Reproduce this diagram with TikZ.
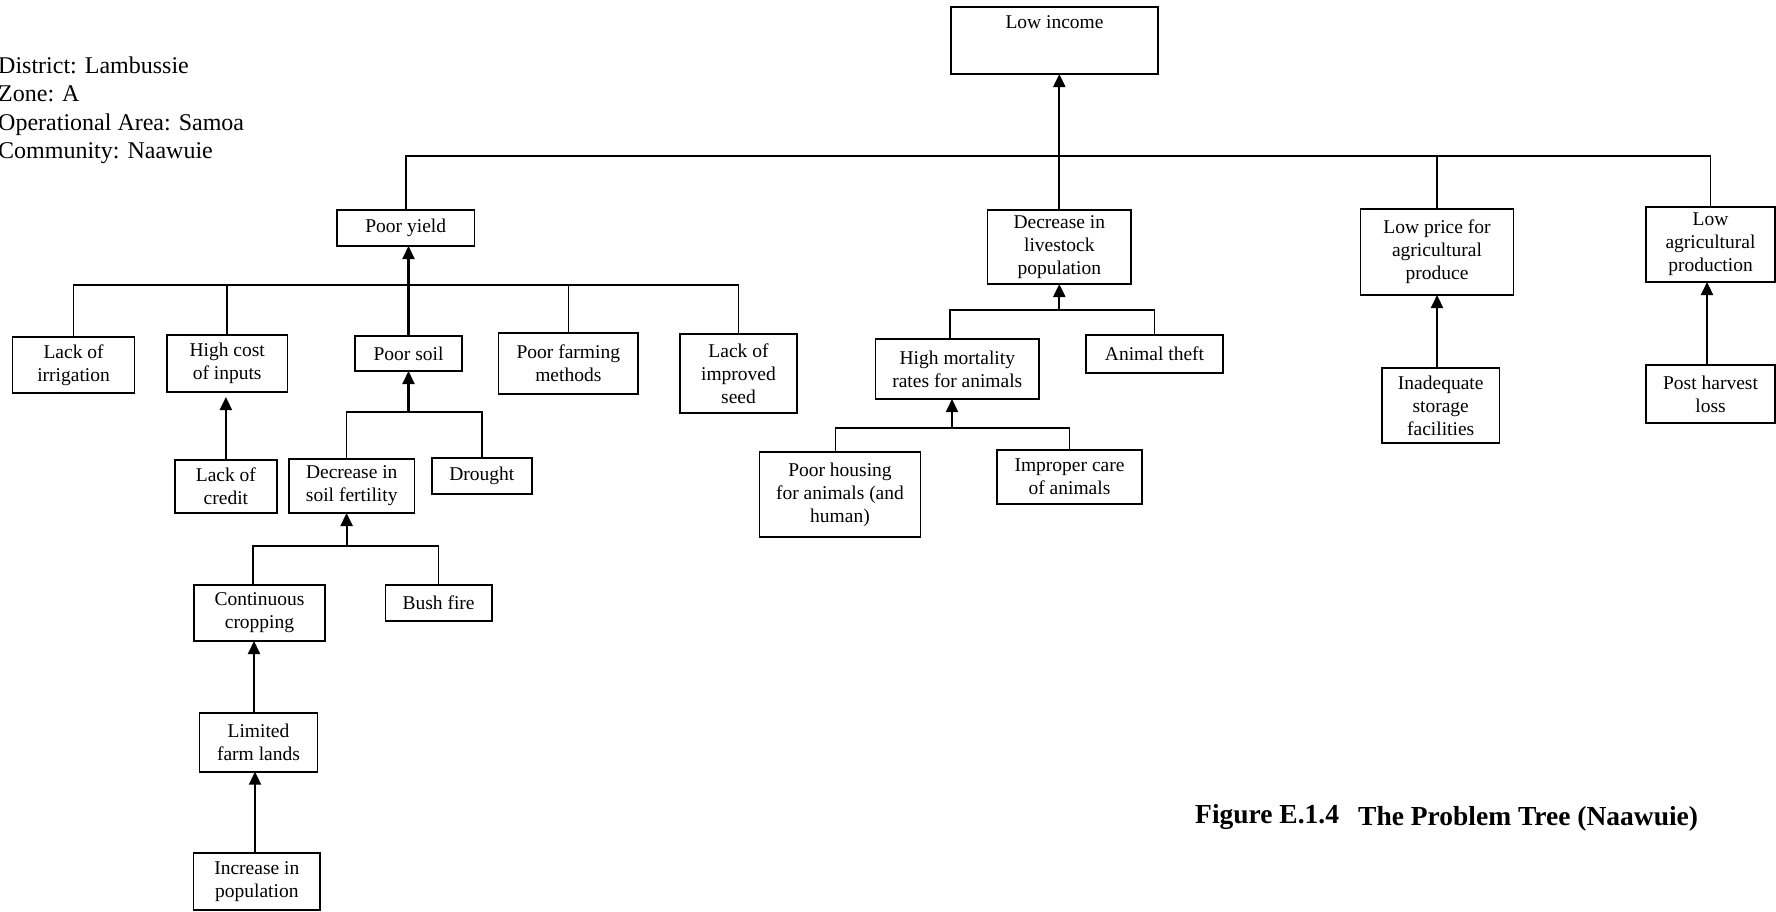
\documentclass[tikz,border=0pt]{standalone}
\usepackage{fontspec}
\setmainfont{Liberation Serif}
\usetikzlibrary{arrows.meta}
\begin{document}
\begin{tikzpicture}[x=1pt,y=-1pt,
  box/.style={draw, line width=1.6pt, align=center, inner sep=0pt, outer sep=0pt,
    font=\fontsize{19.5}{23}\selectfont},
  link/.style={line width=1.6pt},
  arr/.style={line width=2.1pt, -{Triangle[width=12pt,length=13pt]}},
  info/.style={align=left, inner sep=0pt, anchor=north west,
    font=\fontsize{24}{28.5}\selectfont},
  captxt/.style={inner sep=0pt, anchor=base west,
    font=\fontsize{27.5}{32}\selectfont\bfseries}
]
% page
\fill[white] (0,0) rectangle (1776,911);
\path[use as bounding box] (0,0) rectangle (1776,911);

% location details
\node[info] (loc) at (-2,56.5) {District: Lambussie\\Zone: A\\Operational Area: Samoa\\Community: Naawuie};

% core problem
\node[box, minimum width=207pt, minimum height=67pt, text height=13pt, text depth=38pt] (li) at (1054.5,40.5) {Low income};

% direct causes
\node[box, minimum width=137.5pt, minimum height=36pt] (py) at (405.75,228) {Poor yield};
\node[box, minimum width=143.4pt, minimum height=74pt] (dl) at (1059.3,247) {Decrease in\\livestock\\population};
\node[box, minimum width=153pt, minimum height=86pt] (lp) at (1437,252) {Low price for\\agricultural\\produce};
\node[box, minimum width=129pt, minimum height=75pt] (la) at (1710.5,244.5) {Low\\agricultural\\production};

% causes of poor yield
\node[box, minimum width=122pt, minimum height=56pt] (irr) at (73.6,365) {Lack of\\irrigation};
\node[box, minimum width=120.4pt, minimum height=57pt] (hc) at (227.2,363.5) {High cost\\of inputs};
\node[box, minimum width=107pt, minimum height=35pt] (ps) at (408.5,353.5) {Poor soil};
\node[box, minimum width=139.4pt, minimum height=61pt] (pf) at (568.3,363.5) {Poor farming\\methods};
\node[box, minimum width=117pt, minimum height=79pt] (is) at (738.5,373.5) {Lack of\\improved\\seed};

% causes of livestock decline
\node[box, minimum width=163.5pt, minimum height=60pt] (hm) at (957.3,369) {High mortality\\rates for animals};
\node[box, minimum width=137pt, minimum height=38pt] (at) at (1154.5,354) {Animal theft};

% causes of low price and low production
\node[box, minimum width=117.5pt, minimum height=75pt] (sf) at (1440.7,405.5) {Inadequate\\storage\\facilities};
\node[box, minimum width=129pt, minimum height=58pt] (ph) at (1710.5,394) {Post harvest\\loss};

% deeper causes, crop side
\node[box, minimum width=101.7pt, minimum height=52.7pt] (lc) at (225.9,486.4) {Lack of\\credit};
\node[box, minimum width=125.5pt, minimum height=54pt] (df) at (351.75,486) {Decrease in\\soil fertility};
\node[box, minimum width=100.3pt, minimum height=36.3pt] (dr) at (481.9,475.9) {Drought};
\node[box, minimum width=131pt, minimum height=56pt] (cc) at (259.5,613) {Continuous\\cropping};
\node[box, minimum width=106.3pt, minimum height=36pt] (bf) at (438.6,603) {Bush fire};
\node[box, minimum width=118.2pt, minimum height=59pt] (lf) at (258.5,742.2) {Limited\\farm lands};
\node[box, minimum width=126.4pt, minimum height=57.3pt] (ip) at (256.8,881.4) {Increase in\\population};

% deeper causes, livestock side
\node[box, minimum width=160.7pt, minimum height=85pt] (hh) at (840,494.5) {Poor housing\\for animals (and\\human)};
\node[box, minimum width=145.5pt, minimum height=54pt] (ic) at (1069.5,477) {Improper care\\of animals};

% caption
\node[captxt] (cap1) at (1195,823) {Figure E.1.4};
\node[captxt] (cap2) at (1358,825) {The Problem Tree (Naawuie)};

% branching levels
\coordinate (b0) at (0,156);
\coordinate (b1) at (0,285);
\coordinate (b2) at (0,412);
\coordinate (b3) at (0,546);
\coordinate (b4) at (0,310);
\coordinate (b5) at (0,428);

% direct causes -> low income
\draw[link] (py.north) -- (py.north |- b0) -- (la.north |- b0) -- (la.north);
\draw[link] (lp.north) -- (lp.north |- b0);
\draw[arr] (dl.north) -- (dl.north |- li.south);

% causes -> poor yield
\draw[link] (irr.north) -- (irr.north |- b1) -- (is.north |- b1) -- (is.north);
\draw[link] (hc.north) -- (hc.north |- b1);
\draw[link] (pf.north) -- (pf.north |- b1);
\draw[arr] (ps.north) -- (ps.north |- py.south);

% causes -> poor soil
\draw[link] (346.6,0 |- df.north) -- (346.6,0 |- b2) -- (dr.north |- b2) -- (dr.north);
\draw[arr] (ps.south |- b2) -- (ps.south);

% credit -> cost of inputs
\draw[arr, shorten >=5pt] (lc.north) -- (lc.north |- hc.south);

% causes -> soil fertility
\draw[link] (253,0 |- cc.north) -- (253,0 |- b3) -- (bf.north |- b3) -- (bf.north);
\draw[arr] (346.6,0 |- b3) -- (346.6,0 |- df.south);
\draw[arr] (254,0 |- lf.north) -- (254,0 |- cc.south);
\draw[arr] (255,0 |- ip.north) -- (255,0 |- lf.south);

% causes -> livestock decline
\draw[link] (950,0 |- hm.north) -- (950,0 |- b4) -- (at.north |- b4) -- (at.north);
\draw[arr] (dl.south |- b4) -- (dl.south);

% causes -> mortality
\draw[link] (835.3,0 |- hh.north) -- (835.3,0 |- b5) -- (ic.north |- b5) -- (ic.north);
\draw[arr] (952,0 |- b5) -- (952,0 |- hm.south);

% storage and post harvest
\draw[arr] (1437,0 |- sf.north) -- (1437,0 |- lp.south);
\draw[arr] (1707,0 |- ph.north) -- (1707,0 |- la.south);
\end{tikzpicture}
\end{document}
